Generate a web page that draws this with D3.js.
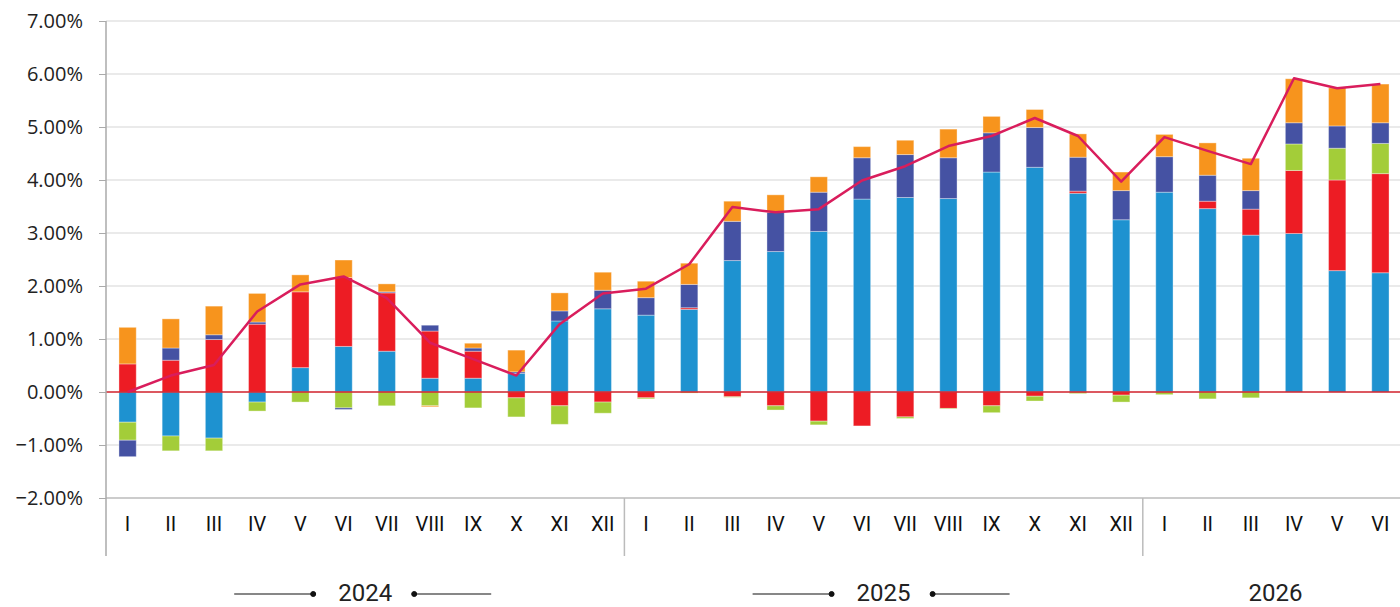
<!DOCTYPE html>
<html>
<head>
<meta charset="utf-8">
<script src="https://cdn.jsdelivr.net/npm/d3@7"></script>
<style>
	body { margin: 0; background: #fff; }
	svg { display: block; }
	.y-label { font-family: "Open Sans", "Noto Sans", sans-serif; font-size: 20px; fill: #222; }
	.x-label { font-family: "Liberation Sans Narrow", "Roboto", sans-serif; font-size: 20px; fill: #111; }
	.year-label { font-family: "Liberation Sans Narrow", "Roboto", sans-serif; font-size: 24px; fill: #222; }
</style>
</head>
<body>
<svg width="1400" height="607"></svg>
<script>
const months = ["I", "II", "III", "IV", "V", "VI", "VII", "VIII", "IX", "X", "XI", "XII",
	"I", "II", "III", "IV", "V", "VI", "VII", "VIII", "IX", "X", "XI", "XII",
	"I", "II", "III", "IV", "V", "VI"];
const years = ["2024", "2025", "2026"];
const yTicks = [-2, -1, 0, 1, 2, 3, 4, 5, 6, 7];

// stacked components (percentage points)
const blue = [-0.57, -0.83, -0.87, -0.19, 0.46, 0.86, 0.77, 0.26, 0.26, 0.35, 1.34, 1.57,
	1.45, 1.56, 2.48, 2.65, 3.03, 3.64, 3.67, 3.65, 4.15, 4.24, 3.75, 3.25,
	3.77, 3.46, 2.96, 2.99, 2.29, 2.25];
const red = [0.53, 0.60, 0.99, 1.28, 1.43, 1.30, 1.10, 0.89, 0.51, -0.11, -0.26, -0.19,
	-0.11, 0.03, -0.09, -0.26, -0.55, -0.64, -0.47, -0.31, -0.26, -0.08, 0.04, -0.06,
	0, 0.14, 0.49, 1.19, 1.71, 1.87];
const green = [-0.34, -0.28, -0.24, -0.17, -0.19, -0.30, -0.26, -0.26, -0.30, -0.36, -0.35, -0.21,
	-0.02, -0.02, -0.01, -0.08, -0.07, 0, -0.03, -0.01, -0.13, -0.09, -0.03, -0.13,
	-0.05, -0.13, -0.11, 0.50, 0.60, 0.57];
const darkBlue = [-0.31, 0.23, 0.09, 0.04, 0, -0.03, 0.02, 0.11, 0.06, 0.03, 0.19, 0.35,
	0.33, 0.44, 0.74, 0.74, 0.74, 0.78, 0.81, 0.77, 0.74, 0.75, 0.64, 0.55,
	0.67, 0.49, 0.35, 0.40, 0.42, 0.39];
const orange = [0.69, 0.55, 0.54, 0.54, 0.32, 0.33, 0.15, -0.02, 0.09, 0.41, 0.34, 0.34,
	0.31, 0.40, 0.38, 0.33, 0.29, 0.21, 0.27, 0.54, 0.31, 0.34, 0.44, 0.35,
	0.42, 0.61, 0.61, 0.83, 0.72, 0.73];
// total (line)
const total = [0.00, 0.31, 0.51, 1.52, 2.03, 2.18, 1.77, 0.93, 0.62, 0.31, 1.28, 1.86,
	1.95, 2.41, 3.49, 3.39, 3.45, 3.99, 4.26, 4.64, 4.83, 5.17, 4.83, 3.97,
	4.81, 4.55, 4.30, 5.92, 5.73, 5.81];

const keys = ["blue", "red", "green", "darkBlue", "orange"];
const colors = {
	blue: "#1e92d0",
	red: "#ed1c24",
	green: "#a3cd39",
	darkBlue: "#4552a3",
	orange: "#f7941d"
};

const rows = months.map((m, i) => ({
	i: i,
	blue: blue[i],
	red: red[i],
	green: green[i],
	darkBlue: darkBlue[i],
	orange: orange[i]
}));

const svg = d3.select("svg");
const plotLeft = 106, plotRight = 1402, plotTop = 21, plotBottom = 498;

const x = d3.scaleBand()
	.domain(d3.range(months.length))
	.range([plotLeft, plotRight])
	.paddingInner(0.6)
	.paddingOuter(0.3);

const y = d3.scaleLinear()
	.domain([-2, 7])
	.range([plotBottom, plotTop]);

// grid
svg.append("g")
	.selectAll("line")
	.data(yTicks.filter(t => t !== -2 && t !== 0))
	.join("line")
	.attr("x1", plotLeft)
	.attr("x2", 1400)
	.attr("y1", d => y(d))
	.attr("y2", d => y(d))
	.attr("stroke", "#e3e3e3")
	.attr("stroke-width", 1.5);

// y axis
const yAxis = d3.axisLeft(y)
	.tickValues(yTicks)
	.tickFormat(d => d3.format(".2f")(d) + "%")
	.tickSize(7)
	.tickPadding(16);

const gY = svg.append("g")
	.attr("transform", `translate(${plotLeft},0)`)
	.call(yAxis);
gY.select(".domain").remove();
gY.attr("font-size", null).attr("font-family", null);
gY.selectAll(".tick line").attr("stroke", "#aaa");
gY.selectAll(".tick text").attr("class", "y-label");

// bars
const stack = d3.stack().keys(keys).offset(d3.stackOffsetDiverging);
const series = stack(rows);

svg.append("g")
	.selectAll("g")
	.data(series)
	.join("g")
	.attr("fill", d => colors[d.key])
	.selectAll("rect")
	.data(d => d)
	.join("rect")
	.attr("x", d => x(d.data.i))
	.attr("width", x.bandwidth())
	.attr("y", d => y(Math.max(d[0], d[1])))
	.attr("height", d => Math.abs(y(d[0]) - y(d[1])))
	.attr("stroke", "rgba(255,255,255,0.35)")
	.attr("stroke-width", 1);

// zero line
svg.append("line")
	.attr("x1", plotLeft)
	.attr("x2", 1400)
	.attr("y1", y(0))
	.attr("y2", y(0))
	.attr("stroke", "#d0212b")
	.attr("stroke-width", 1.5);

// bottom axis line and separators
svg.append("line")
	.attr("x1", plotLeft)
	.attr("x2", 1400)
	.attr("y1", y(-2))
	.attr("y2", y(-2))
	.attr("stroke", "#bbb")
	.attr("stroke-width", 1.5);

svg.append("line")
	.attr("x1", plotLeft)
	.attr("x2", plotLeft)
	.attr("y1", plotTop)
	.attr("y2", 556)
	.attr("stroke", "#aaa")
	.attr("stroke-width", 1.5);

const step = x.step();
const gap = (step - x.bandwidth()) / 2;
svg.append("g")
	.selectAll("line")
	.data([12, 24])
	.join("line")
	.attr("x1", d => x(d) - gap)
	.attr("x2", d => x(d) - gap)
	.attr("y1", y(-2))
	.attr("y2", 556)
	.attr("stroke", "#bbb")
	.attr("stroke-width", 1.5);

// month labels
svg.append("g")
	.selectAll("text")
	.data(months)
	.join("text")
	.attr("class", "x-label")
	.attr("text-anchor", "middle")
	.attr("x", (d, i) => x(i) + x.bandwidth() / 2)
	.attr("y", 531)
	.text(d => d);

// year labels
const yearCenters = years.map((yr, k) => {
	const a = x(k * 12) - gap;
	const b = Math.min(a + 12 * step, plotRight);
	return (a + b) / 2;
});
yearCenters[2] += 3;

const gYears = svg.append("g");
gYears.selectAll("text")
	.data(years)
	.join("text")
	.attr("class", "year-label")
	.attr("text-anchor", "middle")
	.attr("x", (d, k) => yearCenters[k])
	.attr("y", 601)
	.text(d => d);

// decorations around 2024 and 2025
[0, 1].forEach(k => {
	const c = yearCenters[k];
	const g = gYears.append("g").attr("stroke", "#111").attr("fill", "#111");
	g.append("line").attr("x1", c - 131).attr("x2", c - 52).attr("y1", 594).attr("y2", 594).attr("stroke-width", 1.2);
	g.append("circle").attr("cx", c - 52).attr("cy", 594).attr("r", 2.5);
	g.append("circle").attr("cx", c + 49).attr("cy", 594).attr("r", 2.5);
	g.append("line").attr("x1", c + 49).attr("x2", c + 126).attr("y1", 594).attr("y2", 594).attr("stroke-width", 1.2);
});

// total line
const line = d3.line()
	.x((d, i) => x(i) + x.bandwidth() / 2)
	.y(d => y(d));

svg.append("path")
	.datum(total)
	.attr("fill", "none")
	.attr("stroke", "#d91d5c")
	.attr("stroke-width", 2.5)
	.attr("stroke-linejoin", "round")
	.attr("d", line);
</script>
</body>
</html>
